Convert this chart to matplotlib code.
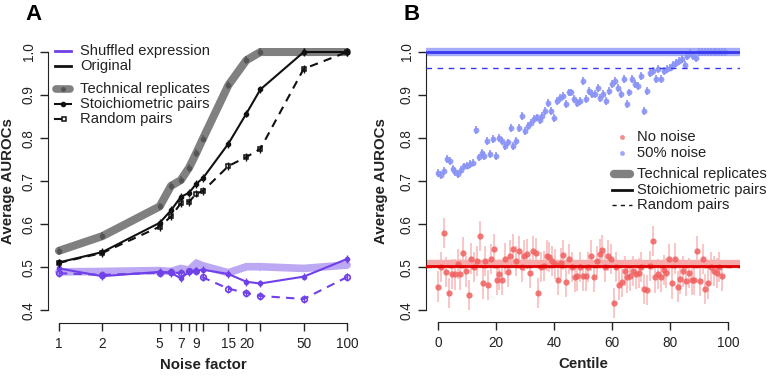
import numpy as np
import matplotlib
matplotlib.use("Agg")
import matplotlib.pyplot as plt
from matplotlib.lines import Line2D

plt.rcParams['font.family'] = ['Liberation Sans', 'DejaVu Sans']

W, H = 775, 376

# ---------------- Panel A data ----------------
noise = [1, 2, 5, 6, 7, 8, 9, 10, 15, 20, 25, 50, 100]
noise_tick_labels = ['1', '2', '5', '', '7', '', '9', '', '15', '20', '', '50', '100']
tech_orig = [0.538, 0.572, 0.641, 0.689, 0.702, 0.731, 0.766, 0.799, 0.923, 0.981, 1.0, 1.0, 1.0]
stoich_orig = [0.511, 0.535, 0.603, 0.632, 0.663, 0.673, 0.694, 0.707, 0.787, 0.857, 0.913, 1.0, 1.0]
random_orig = [0.510, 0.533, 0.594, 0.618, 0.648, 0.652, 0.671, 0.677, 0.735, 0.756, 0.775, 0.961, 1.0]
tech_shuf = [0.489, 0.490, 0.492, 0.490, 0.497, 0.493, 0.509, 0.503, 0.487, 0.501, 0.501, 0.497, 0.505]
stoich_shuf = [0.497, 0.479, 0.489, 0.487, 0.474, 0.489, 0.492, 0.494, 0.484, 0.466, 0.462, 0.478, 0.519]
random_shuf = [0.486, 0.482, 0.487, 0.488, 0.486, 0.490, 0.491, 0.476, 0.450, 0.440, 0.433, 0.426, 0.477]
err_a = 0.009

# ---------------- Panel B data ----------------
blue_vals = [0.718, 0.715, 0.724, 0.751, 0.747, 0.728, 0.722, 0.716, 0.725, 0.734,
             0.736, 0.739, 0.743, 0.819, 0.755, 0.766, 0.759, 0.794, 0.763, 0.797,
             0.759, 0.801, 0.793, 0.782, 0.790, 0.824, 0.782, 0.793, 0.824, 0.852,
             0.817, 0.828, 0.836, 0.844, 0.848, 0.841, 0.852, 0.863, 0.882, 0.863,
             0.846, 0.886, 0.894, 0.897, 0.879, 0.906, 0.906, 0.890, 0.882, 0.886,
             0.933, 0.890, 0.910, 0.902, 0.902, 0.916, 0.894, 0.902, 0.886, 0.910,
             0.925, 0.933, 0.917, 0.903, 0.937, 0.879, 0.906, 0.937, 0.925, 0.921,
             0.944, 0.863, 0.910, 0.952, 0.956, 0.937, 0.960, 0.937, 0.956, 0.960,
             0.964, 0.971, 0.975, 0.979, 0.983, 0.971, 0.991, 0.998, 0.990, 0.985,
             1.0, 1.0, 1.0, 1.0, 1.0, 1.0, 1.0, 1.0, 1.0, 1.0]
blue_centile = list(range(100))
red_vals = [0.455, 0.500, 0.579, 0.488, 0.439, 0.484, 0.483, 0.507, 0.483, 0.534,
            0.490, 0.435, 0.520, 0.500, 0.515, 0.573, 0.462, 0.515, 0.459, 0.519,
            0.542, 0.470, 0.483, 0.470, 0.520, 0.488, 0.527, 0.542, 0.514, 0.537,
            0.500, 0.527, 0.531, 0.486, 0.538, 0.533, 0.439, 0.500, 0.503, 0.527,
            0.524, 0.515, 0.507, 0.470, 0.509, 0.528, 0.465, 0.519, 0.500, 0.478,
            0.480, 0.500, 0.480, 0.480, 0.500, 0.527, 0.478, 0.514, 0.531, 0.540,
            0.500, 0.527, 0.519, 0.416, 0.500, 0.459, 0.465, 0.492, 0.476, 0.480,
            0.492, 0.484, 0.486, 0.500, 0.449, 0.446, 0.503, 0.560, 0.476, 0.484,
            0.478, 0.493, 0.486, 0.519, 0.462, 0.520, 0.455, 0.473, 0.490, 0.468,
            0.486, 0.470, 0.470, 0.537, 0.468, 0.519, 0.449, 0.462, 0.500, 0.492,
            0.486, 0.500, 0.480]
red_centile = list(np.linspace(0, 98, len(red_vals)))
blue_err = 0.009
red_err = 0.035
lines_b = {
    'nonoise': {'tech': 0.507, 'stoich': 0.503, 'random': 0.501},
    'noise50': {'tech': 1.0, 'stoich': 1.0, 'random': 0.963},
}

PURPLE = '#7040e8'
PURPLE_L = '#bda8f3'
BLUE_DOT = '#8a94f5'
BLUE_LINE = '#3838f2'
BLUE_THICK = '#9aa2f8'
RED_DOT = '#f06060'
RED_ERR = '#f7b0b0'
RED_LINE = '#e00000'
RED_THICK = '#f7a0a0'

fig = plt.figure(figsize=(W / 100, H / 100), dpi=100)


def fx(x):
    return x / W


def fy(y):
    return 1 - y / H


def style_axes(ax, xb, yb):
    for s in ['top', 'right']:
        ax.spines[s].set_visible(False)
    ax.spines['left'].set_bounds(*yb)
    ax.spines['bottom'].set_bounds(*xb)
    ax.spines['left'].set_color('#222222')
    ax.spines['bottom'].set_color('#222222')
    ax.tick_params(axis='both', direction='out', length=6, width=1, colors='#222222',
                   labelsize=9.8, labelcolor='#222222')
    ax.tick_params(axis='x', pad=4)
    ax.tick_params(axis='y', pad=3)
    ax.set_yticks([0.4, 0.5, 0.6, 0.7, 0.8, 0.9, 1.0])
    ax.set_yticklabels(['0.4', '0.5', '0.6', '0.7', '0.8', '0.9', '1.0'], rotation=90, va='center')
    ax.set_ylim(0.376, 1.024)


# ---------------- Panel A ----------------
axA = fig.add_axes([fx(48), fy(320.5), fx(358) - fx(48), fy(41.7) - fy(320.5)])
axA.set_xscale('log')
axA.set_xlim(0.84, 119)
style_axes(axA, (1, 100), (0.4, 1.0))
axA.spines['bottom'].set_position(('outward', 2))
axA.set_xticks(noise)
axA.set_xticklabels(noise_tick_labels)
axA.xaxis.set_minor_locator(matplotlib.ticker.NullLocator())

# shuffled
axA.plot(noise, tech_shuf, color=PURPLE_L, lw=5.5, solid_capstyle='round', zorder=2)
axA.errorbar(noise, tech_shuf, yerr=err_a, fmt='none', ecolor=PURPLE_L, elinewidth=1.2, zorder=2)
axA.errorbar(noise, random_shuf, yerr=err_a, fmt='--', color=PURPLE, lw=1.5, dashes=(4, 3),
             marker='o', ms=4, mfc='none', mew=1.2, ecolor=PURPLE, elinewidth=1, zorder=3)
axA.errorbar(noise, stoich_shuf, yerr=err_a, fmt='-', color=PURPLE, lw=1.5,
             marker='o', ms=3, ecolor=PURPLE, elinewidth=1, zorder=4)
# original
axA.plot(noise, tech_orig, color='#808080', lw=5.8, solid_capstyle='round', zorder=5)
axA.errorbar(noise, tech_orig, yerr=err_a, fmt='none', ecolor='#606060', elinewidth=1.2, zorder=5)
axA.plot(noise, tech_orig, 'o', color='#555555', ms=3, zorder=6)
axA.errorbar(noise, random_orig, yerr=err_a, fmt='--', color='#111111', lw=1.5, dashes=(4, 3),
             marker='s', ms=3.5, mfc='none', mew=1.1, ecolor='#111111', elinewidth=1, zorder=7)
axA.errorbar(noise, stoich_orig, yerr=err_a, fmt='-', color='#111111', lw=1.5,
             marker='o', ms=3, ecolor='#111111', elinewidth=1, zorder=8)

axA.set_xlabel('Noise factor', fontsize=10.8, fontweight='bold', labelpad=5, color='#222222')
fig.text(fx(8), fy(181), 'Average AUROCs', rotation=90, fontsize=10.8, fontweight='bold',
         ha='center', va='center', color='#222222')
fig.text(fx(33), fy(15), 'A', fontsize=16, fontweight='bold', ha='center', va='center')

# ---------------- Panel B ----------------
axB = fig.add_axes([fx(426.4), fy(320.5), fx(739.6) - fx(426.4), fy(41.7) - fy(320.5)])
axB.set_xlim(-4, 104)
style_axes(axB, (0, 100), (0.4, 1.0))
axB.spines['bottom'].set_position(('outward', 1))
axB.set_xticks([0, 20, 40, 60, 80, 100])
axB.set_xticklabels(['0', '20', '40', '60', '80', '100'])

axB.axhline(lines_b['nonoise']['tech'], color=RED_THICK, lw=6, alpha=0.9, zorder=1)
axB.axhline(lines_b['noise50']['tech'], color=BLUE_THICK, lw=6, alpha=0.9, zorder=1)
axB.errorbar(red_centile, red_vals, yerr=red_err, fmt='o', color=RED_DOT, ms=4.5, mew=0,
             ecolor=RED_ERR, elinewidth=1.2, alpha=0.85, zorder=2)
axB.errorbar(blue_centile, blue_vals, yerr=blue_err, fmt='o', color=BLUE_DOT, ms=4.2, mew=0,
             ecolor=BLUE_DOT, elinewidth=1.3, alpha=0.9, zorder=2)
axB.axhline(lines_b['nonoise']['random'], color=RED_LINE, lw=1, ls=(0, (4, 4)), zorder=3)
axB.axhline(lines_b['nonoise']['stoich'], color=RED_LINE, lw=2, zorder=3)
axB.axhline(lines_b['noise50']['random'], color=BLUE_LINE, lw=1, ls=(0, (4, 4)), zorder=3)
axB.axhline(lines_b['noise50']['stoich'], color=BLUE_LINE, lw=2, zorder=3)

axB.set_xlabel('Centile', fontsize=10.8, fontweight='bold', labelpad=5, color='#222222')
fig.text(fx(381), fy(181), 'Average AUROCs', rotation=90, fontsize=10.8, fontweight='bold',
         ha='center', va='center', color='#222222')
fig.text(fx(412), fy(15), 'B', fontsize=16, fontweight='bold', ha='center', va='center')


# ---------------- Legends (manual, figure pixel coordinates) ----------------
def hline(x0, x1, y, **kw):
    fig.add_artist(Line2D([fx(x0), fx(x1)], [fy(y), fy(y)], transform=fig.transFigure, **kw))


def dot(x, y, **kw):
    fig.add_artist(Line2D([fx(x)], [fy(y)], transform=fig.transFigure, linestyle='none', **kw))


def label(x, y, s):
    fig.text(fx(x), fy(y), s, fontsize=10.6, ha='left', va='center', color='#222222')


# Legend A
hline(55, 71, 51, color=PURPLE, lw=2)
label(80, 51, 'Shuffled expression')
hline(55, 71, 66, color='#111111', lw=2)
label(80, 66, 'Original')
hline(56, 70, 89, color='#808080', lw=5.5, solid_capstyle='round')
dot(63, 89, marker='o', ms=2.5, color='#555555')
label(80, 89, 'Technical replicates')
hline(55, 71, 104, color='#111111', lw=1.5)
dot(63, 104, marker='o', ms=3, color='#111111')
label(80, 104, 'Stoichiometric pairs')
hline(55, 61, 119, color='#111111', lw=1.5)
dot(64, 119, marker='s', ms=3.5, mfc='none', mec='#111111', mew=1.1)
label(80, 119, 'Random pairs')

# Legend B
dot(622, 137, marker='o', ms=3.5, color=RED_DOT, mew=0, alpha=0.7)
label(637, 137, 'No noise')
dot(622, 153, marker='o', ms=3.5, color=BLUE_DOT, mew=0, alpha=0.8)
label(637, 153, '50% noise')
hline(614, 630, 174, color='#808080', lw=6, solid_capstyle='round')
label(637, 174, 'Technical replicates')
hline(612, 632, 190, color='#111111', lw=2)
label(637, 190, 'Stoichiometric pairs')
hline(612, 632, 205, color='#111111', lw=1, ls=(0, (3, 3)))
label(637, 205, 'Random pairs')

fig.savefig('out.png', dpi=100)
